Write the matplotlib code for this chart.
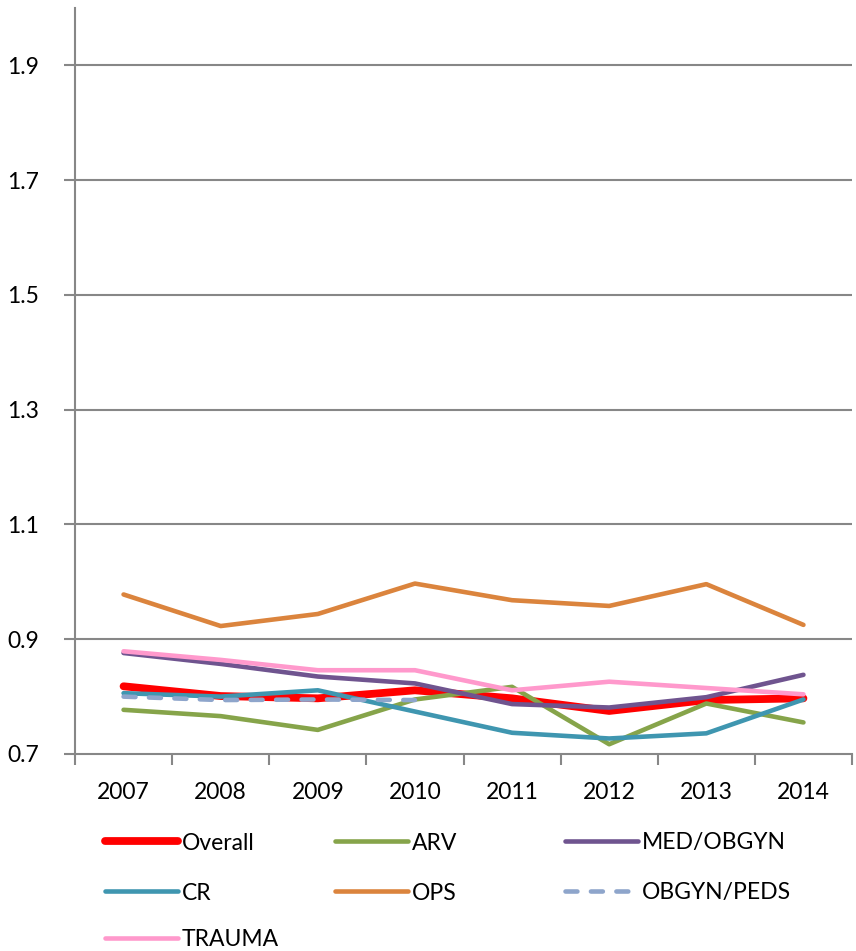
import matplotlib
matplotlib.use("Agg")
import matplotlib.pyplot as plt
from matplotlib.ticker import FixedLocator, NullFormatter

plt.rcParams['font.family'] = ['Lato', 'DejaVu Sans']

years = ['2007', '2008', '2009', '2010', '2011', '2012', '2013', '2014']

overall = [0.818, 0.801, 0.797, 0.811, 0.797, 0.775, 0.794, 0.797]
arv = [0.777, 0.766, 0.742, 0.795, 0.817, 0.717, 0.788, 0.755]
med_obgyn = [0.876, 0.857, 0.835, 0.823, 0.787, 0.781, 0.799, 0.838]
cr = [0.806, 0.800, 0.811, 0.774, 0.737, 0.727, 0.736, 0.795]
ops = [0.978, 0.923, 0.944, 0.997, 0.968, 0.958, 0.996, 0.925]
obgyn_peds = [0.800, 0.794, 0.795, 0.794]   # only reported 2007-2010
trauma = [0.879, 0.864, 0.846, 0.846, 0.811, 0.826, 0.815, 0.804]

y_ticks = [0.7, 0.9, 1.1, 1.3, 1.5, 1.7, 1.9]

series = [
    ('Overall', overall, '#FF0000', 5.6, '-'),
    ('ARV', arv, '#86A44A', 3.3, '-'),
    ('MED/OBGYN', med_obgyn, '#6F548F', 3.3, '-'),
    ('CR', cr, '#3F96B0', 3.3, '-'),
    ('OPS', ops, '#DB843D', 3.3, '-'),
    ('OBGYN/PEDS', obgyn_peds, '#8EA5CB', 3.3, (0, (2.6, 2.95))),
    ('TRAUMA', trauma, '#FF99CC', 3.3, '-'),
]

fig = plt.figure(figsize=(8.56, 9.51), dpi=100)
ax = fig.add_axes([75 / 856, 1 - 754 / 951, 777 / 856, 746 / 951])

grid_col = '#878787'
handles = []
for name, vals, col, lw, ls in series:
    x = list(range(len(vals)))
    h, = ax.plot(x, vals, color=col, lw=lw, linestyle=ls,
                 solid_capstyle='round', dash_capstyle='round',
                 solid_joinstyle='round', label=name)
    handles.append(h)

ax.set_xlim(-0.5, len(years) - 0.5)
ax.set_ylim(0.7, 2.0)
ax.set_yticks(y_ticks)
ax.set_yticklabels([f'{v:.1f}' for v in y_ticks])
ax.set_xticks(range(len(years)))
ax.set_xticklabels(years)
ax.xaxis.set_minor_locator(FixedLocator([i - 0.5 for i in range(len(years) + 1)]))
ax.xaxis.set_minor_formatter(NullFormatter())

ax.tick_params(axis='x', which='major', length=0, pad=20, labelsize=16.5)
ax.tick_params(axis='x', which='minor', length=8, width=1.5, color=grid_col, direction='out')
ax.tick_params(axis='y', length=8, width=1.5, color=grid_col, pad=18, labelsize=16.5)

for y in y_ticks[1:]:
    ax.axhline(y, color=grid_col, lw=1.5, zorder=0)

for s in ['top', 'right']:
    ax.spines[s].set_visible(False)
for s in ['left', 'bottom']:
    ax.spines[s].set_color(grid_col)
    ax.spines[s].set_linewidth(1.5)

# legend laid out as 3 equal columns, row-major like the original
col_x = [105, 335, 565]
row_y = [843, 893, 940]
for i, h in enumerate(handles):
    c, r = i % 3, i // 3
    fig.legend([h], [h.get_label()], loc='center left',
               bbox_to_anchor=(col_x[c] / 856, 1 - row_y[r] / 951),
               frameon=False, borderpad=0, borderaxespad=0,
               handlelength=3.2, handletextpad=0.15, fontsize=16.5)

fig.savefig('out.png', dpi=100)
